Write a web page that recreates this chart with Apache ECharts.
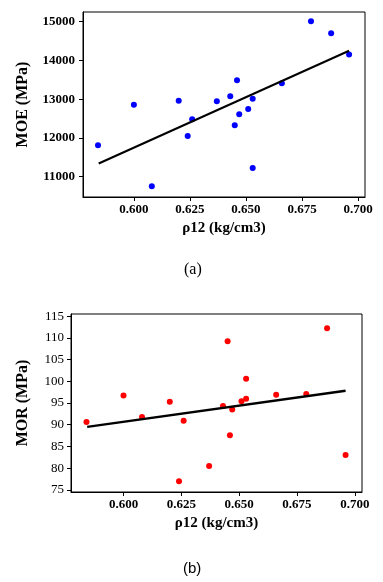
<!DOCTYPE html>
<html>
<head>
<meta charset="utf-8">
<script src="https://cdn.jsdelivr.net/npm/echarts@6/dist/echarts.min.js"></script>
<style>
  html, body { margin: 0; padding: 0; background: #fff; }
  #chart { width: 383px; height: 582px; }
</style>
</head>
<body>
<div id="chart"></div>
<script>
// wood density at 12% moisture, same 18 samples in both panels
const density = [0.584, 0.600, 0.608, 0.620, 0.624, 0.626, 0.637, 0.643, 0.645, 0.646, 0.647, 0.651, 0.653, 0.653, 0.666, 0.679, 0.688, 0.696]
const moe = [11810, 12855, 10750, 12960, 12050, 12480, 12945, 13075, 12325, 13490, 12610, 12745, 13010, 11225, 13410, 15010, 14700, 14150]
const mor = [90.6, 96.7, 91.8, 95.3, 77.0, 90.9, 80.5, 94.3, 109.2, 87.6, 93.5, 95.4, 96.0, 100.6, 96.9, 97.1, 112.2, 83.0]

// regression lines (end points)
const fitX = [0.5843, 0.6960]
const moeFit = [11340, 14250]
const morFit = [89.5, 97.8]

const xTicks = [0.600, 0.625, 0.650, 0.675, 0.700]
const moeTicks = [11000, 12000, 13000, 14000, 15000]
const morTicks = [75, 80, 85, 90, 95, 100, 105, 110, 115]

const serif = 'Liberation Serif'

const xAxisOf = (gridIndex) => ({
    gridIndex,
    type: 'value',
    min: 0.5773,
    max: 0.7031,
    name: 'ρ12 (kg/cm3)',
    nameLocation: 'middle',
    nameGap: 24,
    nameTextStyle: { fontFamily: serif, fontWeight: 'bold', fontSize: 15, color: '#000' },
    axisLine: { show: true, lineStyle: { color: '#000', width: 1 } },
    axisTick: { show: true, length: 4, lineStyle: { color: '#000' }, customValues: xTicks },
    axisLabel: {
        margin: 6,
        fontFamily: serif,
        fontWeight: 'bold',
        fontSize: 13,
        color: '#000',
        customValues: xTicks,
        formatter: (v) => v.toFixed(3)
    },
    splitLine: { show: false }
})

const chart = echarts.init(document.getElementById('chart'), null, { renderer: 'canvas' })

chart.setOption({
    animation: false,
    backgroundColor: '#fff',
    grid: [
        { left: 83, top: 12, width: 282, height: 185, show: true, borderColor: '#000', borderWidth: 1 },
        { left: 71, top: 314, width: 291, height: 178, show: true, borderColor: '#000', borderWidth: 1 }
    ],
    xAxis: [xAxisOf(0), xAxisOf(1)],
    yAxis: [
        {
            gridIndex: 0,
            type: 'value',
            min: 10475,
            max: 15250,
            name: 'MOE (MPa)',
            nameLocation: 'middle',
            nameGap: 52,
            nameTextStyle: { fontFamily: serif, fontWeight: 'bold', fontSize: 16, color: '#000' },
            axisLine: { show: true, lineStyle: { color: '#000' } },
            axisTick: { show: true, length: 4, lineStyle: { color: '#000' }, customValues: moeTicks },
            axisLabel: {
                margin: 8, fontFamily: serif, fontWeight: 'bold', fontSize: 13, color: '#000',
                customValues: moeTicks,
                formatter: (v) => String(v)
            },
            splitLine: { show: false }
        },
        {
            gridIndex: 1,
            type: 'value',
            min: 74.5,
            max: 115.5,
            name: 'MOR (MPa)',
            nameLocation: 'middle',
            nameGap: 40,
            nameTextStyle: { fontFamily: serif, fontWeight: 'bold', fontSize: 16, color: '#000' },
            axisLine: { show: true, lineStyle: { color: '#000' } },
            axisTick: { show: true, length: 4, lineStyle: { color: '#000' }, customValues: morTicks },
            axisLabel: { margin: 7, fontFamily: serif, fontSize: 13, color: '#000', customValues: morTicks },
            splitLine: { show: false }
        }
    ],
    graphic: [
        { type: 'text', left: 184, top: 262, style: { text: '(a)', font: '16px "Liberation Serif"', fill: '#000' } },
        { type: 'text', left: 183, top: 561, style: { text: '(b)', font: '15px "Liberation Sans"', fill: '#000' } }
    ],
    series: [
        {
            type: 'scatter',
            xAxisIndex: 0,
            yAxisIndex: 0,
            symbolSize: 6,
            itemStyle: { color: '#0000ff', opacity: 1 },
            data: density.map((d, i) => [d, moe[i]])
        },
        {
            type: 'line',
            xAxisIndex: 0,
            yAxisIndex: 0,
            symbol: 'none',
            lineStyle: { color: '#000', width: 2 },
            data: fitX.map((d, i) => [d, moeFit[i]])
        },
        {
            type: 'scatter',
            xAxisIndex: 1,
            yAxisIndex: 1,
            symbolSize: 6,
            itemStyle: { color: '#ff0000', opacity: 1 },
            data: density.map((d, i) => [d, mor[i]])
        },
        {
            type: 'line',
            xAxisIndex: 1,
            yAxisIndex: 1,
            symbol: 'none',
            lineStyle: { color: '#000', width: 2.5 },
            data: fitX.map((d, i) => [d, morFit[i]])
        }
    ]
})
</script>
</body>
</html>
